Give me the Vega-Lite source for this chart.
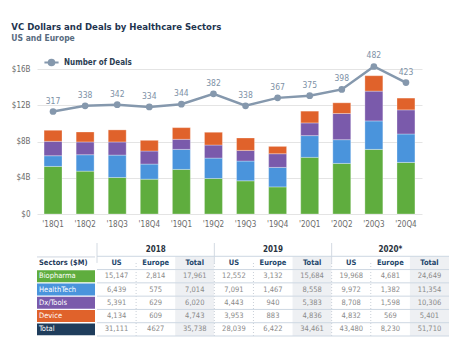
{
  "$schema": "https://vega.github.io/schema/vega-lite/v6.json",
  "background": "white",
  "padding": {"left": 11, "top": 22, "right": 10, "bottom": 0},
  "config": {"view": {"stroke": null}, "font": "DejaVu Sans Condensed, sans-serif", "text": {"font": "DejaVu Sans Condensed, sans-serif"}, "axis": {"labelFont": "DejaVu Sans Condensed, sans-serif"}, "legend": {"labelFont": "DejaVu Sans Condensed, sans-serif"}},
  "title": {
    "text": "VC Dollars and Deals by Healthcare Sectors",
    "subtitle": "US and Europe",
    "anchor": "start",
    "frame": "bounds",
    "font": "DejaVu Sans Condensed, sans-serif",
    "fontSize": 9.5,
    "fontWeight": "bold",
    "color": "#1f3550",
    "subtitleFont": "DejaVu Sans Condensed, sans-serif",
    "subtitleFontSize": 8.5,
    "subtitleFontWeight": "bold",
    "subtitleColor": "#586b7f",
    "subtitlePadding": 2,
    "offset": 9
  },
  "datasets": {
    "bars": [
      {"q": "'18Q1", "sector": "Biopharma", "k": 1, "v": 5.25},
      {"q": "'18Q1", "sector": "HealthTech", "k": 2, "v": 1.18},
      {"q": "'18Q1", "sector": "Dx/Tools", "k": 3, "v": 1.59},
      {"q": "'18Q1", "sector": "Device", "k": 4, "v": 1.22},
      {"q": "'18Q2", "sector": "Biopharma", "k": 1, "v": 4.73},
      {"q": "'18Q2", "sector": "HealthTech", "k": 2, "v": 1.81},
      {"q": "'18Q2", "sector": "Dx/Tools", "k": 3, "v": 1.41},
      {"q": "'18Q2", "sector": "Device", "k": 4, "v": 1.10},
      {"q": "'18Q3", "sector": "Biopharma", "k": 1, "v": 4.03},
      {"q": "'18Q3", "sector": "HealthTech", "k": 2, "v": 2.47},
      {"q": "'18Q3", "sector": "Dx/Tools", "k": 3, "v": 1.45},
      {"q": "'18Q3", "sector": "Device", "k": 4, "v": 1.33},
      {"q": "'18Q4", "sector": "Biopharma", "k": 1, "v": 3.84},
      {"q": "'18Q4", "sector": "HealthTech", "k": 2, "v": 1.67},
      {"q": "'18Q4", "sector": "Dx/Tools", "k": 3, "v": 1.44},
      {"q": "'18Q4", "sector": "Device", "k": 4, "v": 1.18},
      {"q": "'19Q1", "sector": "Biopharma", "k": 1, "v": 4.92},
      {"q": "'19Q1", "sector": "HealthTech", "k": 2, "v": 2.21},
      {"q": "'19Q1", "sector": "Dx/Tools", "k": 3, "v": 1.11},
      {"q": "'19Q1", "sector": "Device", "k": 4, "v": 1.29},
      {"q": "'19Q2", "sector": "Biopharma", "k": 1, "v": 3.92},
      {"q": "'19Q2", "sector": "HealthTech", "k": 2, "v": 2.25},
      {"q": "'19Q2", "sector": "Dx/Tools", "k": 3, "v": 1.44},
      {"q": "'19Q2", "sector": "Device", "k": 4, "v": 1.41},
      {"q": "'19Q3", "sector": "Biopharma", "k": 1, "v": 3.66},
      {"q": "'19Q3", "sector": "HealthTech", "k": 2, "v": 2.18},
      {"q": "'19Q3", "sector": "Dx/Tools", "k": 3, "v": 1.18},
      {"q": "'19Q3", "sector": "Device", "k": 4, "v": 1.37},
      {"q": "'19Q4", "sector": "Biopharma", "k": 1, "v": 2.99},
      {"q": "'19Q4", "sector": "HealthTech", "k": 2, "v": 2.15},
      {"q": "'19Q4", "sector": "Dx/Tools", "k": 3, "v": 1.51},
      {"q": "'19Q4", "sector": "Device", "k": 4, "v": 0.81},
      {"q": "'20Q1", "sector": "Biopharma", "k": 1, "v": 6.25},
      {"q": "'20Q1", "sector": "HealthTech", "k": 2, "v": 2.40},
      {"q": "'20Q1", "sector": "Dx/Tools", "k": 3, "v": 1.40},
      {"q": "'20Q1", "sector": "Device", "k": 4, "v": 1.30},
      {"q": "'20Q2", "sector": "Biopharma", "k": 1, "v": 5.58},
      {"q": "'20Q2", "sector": "HealthTech", "k": 2, "v": 2.62},
      {"q": "'20Q2", "sector": "Dx/Tools", "k": 3, "v": 2.89},
      {"q": "'20Q2", "sector": "Device", "k": 4, "v": 1.18},
      {"q": "'20Q3", "sector": "Biopharma", "k": 1, "v": 7.13},
      {"q": "'20Q3", "sector": "HealthTech", "k": 2, "v": 3.14},
      {"q": "'20Q3", "sector": "Dx/Tools", "k": 3, "v": 3.29},
      {"q": "'20Q3", "sector": "Device", "k": 4, "v": 1.70},
      {"q": "'20Q4", "sector": "Biopharma", "k": 1, "v": 5.69},
      {"q": "'20Q4", "sector": "HealthTech", "k": 2, "v": 3.14},
      {"q": "'20Q4", "sector": "Dx/Tools", "k": 3, "v": 2.66},
      {"q": "'20Q4", "sector": "Device", "k": 4, "v": 1.30}
    ],
    "deals": [
      {"q": "'18Q1", "deals": 317},
      {"q": "'18Q2", "deals": 338},
      {"q": "'18Q3", "deals": 342},
      {"q": "'18Q4", "deals": 334},
      {"q": "'19Q1", "deals": 344},
      {"q": "'19Q2", "deals": 382},
      {"q": "'19Q3", "deals": 338},
      {"q": "'19Q4", "deals": 367},
      {"q": "'20Q1", "deals": 375},
      {"q": "'20Q2", "deals": 398},
      {"q": "'20Q3", "deals": 482},
      {"q": "'20Q4", "deals": 423}
    ],
    "sectors": [
      {"row": "Biopharma", "label": "Biopharma"},
      {"row": "HealthTech", "label": "HealthTech"},
      {"row": "Dx/Tools", "label": "Dx/Tools"},
      {"row": "Device", "label": "Device"},
      {"row": "Total", "label": "Total"}
    ],
    "sectorHead": [{"row": "head", "label": "Sectors ($M)"}],
    "years": [
      {"row": "year", "col": "2018 Europe", "text": "2018"},
      {"row": "year", "col": "2019 Europe", "text": "2019"},
      {"row": "year", "col": "2020 Europe", "text": "2020*"}
    ],
    "groupEdges": [
      {"col": "2018 US"}, {"col": "2019 US"}, {"col": "2020 US"}
    ],
    "dotEdges": [
      {"col": "2018 Europe"}, {"col": "2019 US"}, {"col": "2019 Europe"}, {"col": "2020 US"}, {"col": "2020 Europe"}
    ],
    "rowTops": [
      {"row": "head"}, {"row": "Biopharma"}, {"row": "HealthTech"}, {"row": "Dx/Tools"}, {"row": "Device"}, {"row": "Total"}
    ],
    "lastRow": [{"row": "Total"}],
    "hdr": [
      {"row": "head", "col": "2018 US", "region": "US", "text": "US"},
      {"row": "head", "col": "2018 Europe", "region": "Europe", "text": "Europe"},
      {"row": "head", "col": "2018 Total", "region": "Total", "text": "Total"},
      {"row": "head", "col": "2019 US", "region": "US", "text": "US"},
      {"row": "head", "col": "2019 Europe", "region": "Europe", "text": "Europe"},
      {"row": "head", "col": "2019 Total", "region": "Total", "text": "Total"},
      {"row": "head", "col": "2020 US", "region": "US", "text": "US"},
      {"row": "head", "col": "2020 Europe", "region": "Europe", "text": "Europe"},
      {"row": "head", "col": "2020 Total", "region": "Total", "text": "Total"}
    ],
    "cells": [
      {"row": "Biopharma", "col": "2018 US", "region": "US", "text": "15,147"},
      {"row": "Biopharma", "col": "2018 Europe", "region": "Europe", "text": "2,814"},
      {"row": "Biopharma", "col": "2018 Total", "region": "Total", "text": "17,961"},
      {"row": "Biopharma", "col": "2019 US", "region": "US", "text": "12,552"},
      {"row": "Biopharma", "col": "2019 Europe", "region": "Europe", "text": "3,132"},
      {"row": "Biopharma", "col": "2019 Total", "region": "Total", "text": "15,684"},
      {"row": "Biopharma", "col": "2020 US", "region": "US", "text": "19,968"},
      {"row": "Biopharma", "col": "2020 Europe", "region": "Europe", "text": "4,681"},
      {"row": "Biopharma", "col": "2020 Total", "region": "Total", "text": "24,649"},
      {"row": "HealthTech", "col": "2018 US", "region": "US", "text": "6,439"},
      {"row": "HealthTech", "col": "2018 Europe", "region": "Europe", "text": "575"},
      {"row": "HealthTech", "col": "2018 Total", "region": "Total", "text": "7,014"},
      {"row": "HealthTech", "col": "2019 US", "region": "US", "text": "7,091"},
      {"row": "HealthTech", "col": "2019 Europe", "region": "Europe", "text": "1,467"},
      {"row": "HealthTech", "col": "2019 Total", "region": "Total", "text": "8,558"},
      {"row": "HealthTech", "col": "2020 US", "region": "US", "text": "9,972"},
      {"row": "HealthTech", "col": "2020 Europe", "region": "Europe", "text": "1,382"},
      {"row": "HealthTech", "col": "2020 Total", "region": "Total", "text": "11,354"},
      {"row": "Dx/Tools", "col": "2018 US", "region": "US", "text": "5,391"},
      {"row": "Dx/Tools", "col": "2018 Europe", "region": "Europe", "text": "629"},
      {"row": "Dx/Tools", "col": "2018 Total", "region": "Total", "text": "6,020"},
      {"row": "Dx/Tools", "col": "2019 US", "region": "US", "text": "4,443"},
      {"row": "Dx/Tools", "col": "2019 Europe", "region": "Europe", "text": "940"},
      {"row": "Dx/Tools", "col": "2019 Total", "region": "Total", "text": "5,383"},
      {"row": "Dx/Tools", "col": "2020 US", "region": "US", "text": "8,708"},
      {"row": "Dx/Tools", "col": "2020 Europe", "region": "Europe", "text": "1,598"},
      {"row": "Dx/Tools", "col": "2020 Total", "region": "Total", "text": "10,306"},
      {"row": "Device", "col": "2018 US", "region": "US", "text": "4,134"},
      {"row": "Device", "col": "2018 Europe", "region": "Europe", "text": "609"},
      {"row": "Device", "col": "2018 Total", "region": "Total", "text": "4,743"},
      {"row": "Device", "col": "2019 US", "region": "US", "text": "3,953"},
      {"row": "Device", "col": "2019 Europe", "region": "Europe", "text": "883"},
      {"row": "Device", "col": "2019 Total", "region": "Total", "text": "4,836"},
      {"row": "Device", "col": "2020 US", "region": "US", "text": "4,832"},
      {"row": "Device", "col": "2020 Europe", "region": "Europe", "text": "569"},
      {"row": "Device", "col": "2020 Total", "region": "Total", "text": "5,401"},
      {"row": "Total", "col": "2018 US", "region": "US", "text": "31,111"},
      {"row": "Total", "col": "2018 Europe", "region": "Europe", "text": "4627"},
      {"row": "Total", "col": "2018 Total", "region": "Total", "text": "35,738"},
      {"row": "Total", "col": "2019 US", "region": "US", "text": "28,039"},
      {"row": "Total", "col": "2019 Europe", "region": "Europe", "text": "6,422"},
      {"row": "Total", "col": "2019 Total", "region": "Total", "text": "34,461"},
      {"row": "Total", "col": "2020 US", "region": "US", "text": "43,480"},
      {"row": "Total", "col": "2020 Europe", "region": "Europe", "text": "8,230"},
      {"row": "Total", "col": "2020 Total", "region": "Total", "text": "51,710"}
    ]
  },
  "align": "none",
  "spacing": 14,
  "resolve": {"scale": {"color": "independent", "fill": "independent", "stroke": "independent"}},
  "vconcat": [
    {
      "width": 385,
      "height": 145,
      "layer": [
        {
          "data": {"name": "bars"},
          "mark": {"type": "bar", "stroke": "#ffffff", "strokeOpacity": 0.3, "strokeWidth": 1},
          "encoding": {
            "x": {
              "field": "q", "type": "ordinal",
              "scale": {"domain": ["'18Q1", "'18Q2", "'18Q3", "'18Q4", "'19Q1", "'19Q2", "'19Q3", "'19Q4", "'20Q1", "'20Q2", "'20Q3", "'20Q4"], "paddingInner": 0.44, "paddingOuter": 0.22},
              "axis": {"title": null, "labelAngle": 0, "ticks": false, "domain": false, "labelPadding": 6, "labelFontSize": 8, "labelColor": "#6b6b6b", "labelFont": "DejaVu Sans Condensed, sans-serif"}
            },
            "y": {
              "field": "v", "type": "quantitative", "stack": "zero",
              "scale": {"domain": [0, 16], "nice": false},
              "axis": {"title": null, "values": [0, 4, 8, 12, 16], "ticks": false, "domain": false, "grid": true, "gridColor": "#e4e4e4", "labelPadding": 7, "labelFontSize": 8, "labelColor": "#6b6b6b", "labelFont": "DejaVu Sans Condensed, sans-serif", "labelExpr": "'$' + datum.value + (datum.value > 0 ? 'B' : '')"}
            },
            "color": {
              "field": "sector", "type": "nominal",
              "scale": {"domain": ["Biopharma", "HealthTech", "Dx/Tools", "Device"], "range": ["#5fad3e", "#4a94dc", "#7a5aab", "#e0622b"]},
              "legend": null
            },
            "order": {"field": "k", "type": "quantitative"}
          }
        },
        {
          "data": {"name": "deals"},
          "encoding": {
            "x": {"field": "q", "type": "ordinal"},
            "y": {"field": "deals", "type": "quantitative", "scale": {"domain": [-58.5, 472.8], "nice": false, "zero": false}, "axis": null}
          },
          "layer": [
            {
              "mark": {"type": "line", "strokeWidth": 2.5},
              "encoding": {
                "stroke": {
                  "datum": "Number of Deals", "type": "nominal",
                  "scale": {"range": ["#8598ad"]},
                  "legend": {
                    "orient": "none", "legendX": 6, "legendY": -15, "title": null, "padding": 0,
                    "symbolType": "M-1,0L-0.4,0M0.4,0L1,0M0.4,0A0.4,0.4 0 1 1 -0.4,0A0.4,0.4 0 1 1 0.4,0Z",
                    "symbolSize": 200, "symbolStrokeWidth": 2, "symbolFillColor": "#8598ad", "symbolStrokeColor": "#8598ad",
                    "labelFont": "DejaVu Sans Condensed, sans-serif", "labelFontSize": 8, "labelFontWeight": "bold", "labelColor": "#2b3d52", "labelOffset": 4
                  }
                }
              }
            },
            {"mark": {"type": "point", "filled": true, "size": 45, "color": "#8598ad", "opacity": 1}},
            {
              "mark": {"type": "text", "dy": -11, "fontSize": 8.5, "color": "#7d91a6", "font": "DejaVu Sans Condensed, sans-serif"},
              "encoding": {"text": {"field": "deals", "type": "quantitative"}}
            }
          ]
        }
      ],
      "resolve": {"scale": {"y": "independent"}}
    },
    {
      "spacing": 0,
      "resolve": {"scale": {"color": "independent", "fill": "independent", "stroke": "independent"}},
      "hconcat": [
        {
          "width": 58,
          "height": 93,
          "layer": [
            {
              "data": {"name": "sectors"},
              "mark": {"type": "rect"},
              "encoding": {
                "x": {"datum": "label", "type": "ordinal", "scale": {"paddingInner": 0, "paddingOuter": 0}, "axis": null},
                "y": {"field": "row", "type": "ordinal", "scale": {"domain": ["year", "head", "Biopharma", "HealthTech", "Dx/Tools", "Device", "Total"], "paddingInner": 0.1, "paddingOuter": 0.05}, "axis": null},
                "fill": {"field": "row", "type": "nominal", "scale": {"domain": ["Biopharma", "HealthTech", "Dx/Tools", "Device", "Total"], "range": ["#5fad3e", "#4a94dc", "#7a5aab", "#e0622b", "#1f3d5c"]}, "legend": null}
              }
            },
            {
              "data": {"name": "sectors"},
              "mark": {"type": "text", "align": "left", "dx": 2, "fontSize": 7.5, "color": "#ffffff", "font": "DejaVu Sans Condensed, sans-serif"},
              "encoding": {
                "x": {"datum": "label", "type": "ordinal", "bandPosition": 0},
                "y": {"field": "row", "type": "ordinal"},
                "text": {"field": "label"}
              }
            },
            {
              "data": {"name": "sectorHead"},
              "mark": {"type": "text", "align": "left", "dx": 2, "fontSize": 7.5, "fontWeight": "bold", "color": "#1f3b5c", "font": "DejaVu Sans Condensed, sans-serif"},
              "encoding": {
                "x": {"datum": "label", "type": "ordinal", "bandPosition": 0},
                "y": {"field": "row", "type": "ordinal"},
                "text": {"field": "label"}
              }
            },
            {
              "data": {"name": "sectorHead"},
              "mark": {"type": "rule", "color": "#cfd7e0", "strokeWidth": 1},
              "encoding": {"y": {"field": "row", "type": "ordinal", "bandPosition": 0}}
            }
          ]
        },
        {
          "width": 352,
          "height": 93,
          "layer": [
            {
              "data": {"name": "hdr"},
              "mark": {"type": "rect"},
              "encoding": {
                "x": {"field": "col", "type": "ordinal", "scale": {"domain": ["2018 US", "2018 Europe", "2018 Total", "2019 US", "2019 Europe", "2019 Total", "2020 US", "2020 Europe", "2020 Total"], "paddingInner": 0, "paddingOuter": 0}, "axis": null},
                "y": {"field": "row", "type": "ordinal", "scale": {"domain": ["year", "head", "Biopharma", "HealthTech", "Dx/Tools", "Device", "Total"], "paddingInner": 0, "paddingOuter": 0}, "axis": null},
                "fill": {"field": "region", "type": "nominal", "scale": {"domain": ["US", "Europe", "Total"], "range": ["#ffffff", "#ffffff", "#eef0f3"]}, "legend": null}
              }
            },
            {
              "data": {"name": "cells"},
              "mark": {"type": "rect"},
              "encoding": {
                "x": {"field": "col", "type": "ordinal"},
                "y": {"field": "row", "type": "ordinal"},
                "fill": {"field": "region", "type": "nominal", "legend": null}
              }
            },
            {
              "data": {"name": "groupEdges"},
              "mark": {"type": "rule", "color": "#d3dae2", "strokeWidth": 1},
              "encoding": {
                "x": {"field": "col", "type": "ordinal", "bandPosition": 0},
                "y": {"datum": "year", "type": "ordinal", "bandPosition": 0},
                "y2": {"datum": "head"}
              }
            },
            {
              "data": {"name": "dotEdges"},
              "mark": {"type": "rule", "color": "#c9d0d8", "strokeWidth": 1, "strokeDash": [1, 2]},
              "encoding": {
                "x": {"field": "col", "type": "ordinal", "bandPosition": 0},
                "y": {"datum": "Total", "type": "ordinal", "bandPosition": 1},
                "y2": {"datum": "head"}
              }
            },
            {
              "data": {"name": "rowTops"},
              "mark": {"type": "rule", "color": "#cdd7e2", "strokeWidth": 1},
              "encoding": {"y": {"field": "row", "type": "ordinal", "bandPosition": 0}}
            },
            {
              "data": {"name": "lastRow"},
              "mark": {"type": "rule", "color": "#cdd7e2", "strokeWidth": 1},
              "encoding": {"y": {"field": "row", "type": "ordinal", "bandPosition": 1}}
            },
            {
              "data": {"name": "years"},
              "mark": {"type": "text", "fontSize": 8, "fontWeight": "bold", "color": "#2a3340", "font": "DejaVu Sans Condensed, sans-serif"},
              "encoding": {"x": {"field": "col", "type": "ordinal"}, "y": {"field": "row", "type": "ordinal"}, "text": {"field": "text"}}
            },
            {
              "data": {"name": "hdr"},
              "mark": {"type": "text", "fontSize": 7.5, "fontWeight": "bold", "color": "#24476c", "font": "DejaVu Sans Condensed, sans-serif"},
              "encoding": {"x": {"field": "col", "type": "ordinal"}, "y": {"field": "row", "type": "ordinal"}, "text": {"field": "text"}}
            },
            {
              "data": {"name": "cells"},
              "mark": {"type": "text", "fontSize": 7.5, "color": "#8a8a8a", "font": "DejaVu Sans Condensed, sans-serif"},
              "encoding": {"x": {"field": "col", "type": "ordinal"}, "y": {"field": "row", "type": "ordinal"}, "text": {"field": "text"}}
            }
          ]
        }
      ]
    }
  ]
}
